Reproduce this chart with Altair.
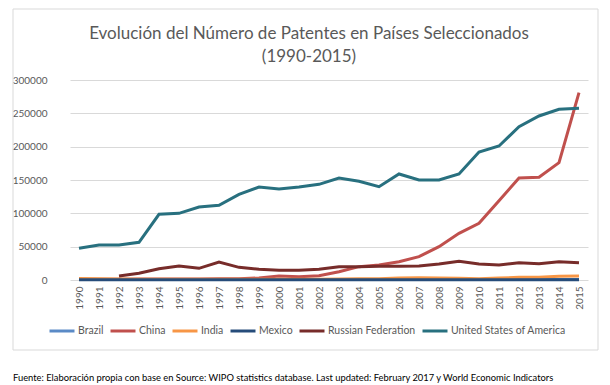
import altair as alt
import pandas as pd

years = list(range(1990, 2016))
countries = ["Brazil", "China", "India", "Mexico", "Russian Federation", "United States of America"]
colors = ["#5A8AC6", "#C0504D", "#F79646", "#264C7A", "#772C2A", "#28707F"]

brazil = [600, 600, 600, 600, 600, 600, 600, 600, 600, 600, 600, 600, 600, 600, 600, 600,
          700, 700, 700, 700, 700, 700, 700, 700, 700, 700]
china = [1000, 1000, 1200, 1500, 1500, 1500, 1500, 1800, 2000, 3000, 6000, 5000, 6500, 12500,
         20000, 22500, 27500, 35000, 50000, 70000, 85000, 119000, 153000, 154000, 176000, 281000]
india = [2200, 1800, 1500, 1200, 1000, 1000, 1000, 1000, 1000, 1000, 1000, 1200, 1300, 1500,
         1800, 2000, 3000, 3500, 3000, 2500, 2000, 3000, 4000, 4000, 5500, 6000]
mexico = [300, 300, 300, 300, 300, 300, 300, 300, 300, 300, 300, 300, 300, 300, 300, 300,
          300, 300, 300, 300, 300, 300, 300, 300, 300, 300]
russia = [None, None, 6000, 10000, 17000, 21000, 17500, 27000, 19000, 16000, 14500, 14500, 16000,
          20000, 20000, 20500, 20500, 21000, 24000, 28000, 24000, 22500, 26000, 24500, 27500, 26000]
usa = [47500, 52500, 52500, 56500, 98500, 100000, 109500, 112000, 128500, 139500, 136500, 139500,
       143500, 153000, 148000, 140000, 159000, 150000, 150000, 159000, 192000, 201000, 230000,
       246000, 256000, 257500]

series = [brazil, china, india, mexico, russia, usa]
rows = []
for c, vals in zip(countries, series):
    for y, v in zip(years, vals):
        if v is not None:
            rows.append({"Año": str(y), "País": c, "Patentes": v, "order": countries.index(c)})
df = pd.DataFrame(rows)

title_lines = ["Evolución del Número de Patentes en Países Seleccionados", "(1990-2015)"]
footnote = ("Fuente: Elaboración propia con base en Source: WIPO statistics database. "
            "Last updated: February 2017 y World Economic Indicators")
FONT = "Lato"

box = alt.Chart(pd.DataFrame({"a": [0]})).mark_rect(
    fill="transparent", stroke="#D9D9D9", strokeWidth=1
).encode(
    x=alt.value(-57), x2=alt.value(528), y=alt.value(-71), y2=alt.value(270)
)

lines = alt.Chart(df).mark_line(strokeWidth=3).encode(
    x=alt.X("Año:O", sort=[str(y) for y in years],
            scale=alt.Scale(type="point", padding=0.45),
            axis=alt.Axis(title=None, labelAngle=270, labelAlign="right", labelBaseline="middle",
                          labelPadding=6, ticks=False, domain=False, grid=False,
                          labelFont=FONT, labelFontSize=10, labelColor="#595959")),
    y=alt.Y("Patentes:Q", scale=alt.Scale(domain=[0, 300000], nice=False),
            axis=alt.Axis(title=None, values=[0, 50000, 100000, 150000, 200000, 250000, 300000],
                          format="d", ticks=False, domain=False, labelPadding=23,
                          gridColor="#D9D9D9", gridWidth=1,
                          labelFont=FONT, labelFontSize=10, labelColor="#595959")),
    color=alt.Color("País:N", scale=alt.Scale(domain=countries, range=colors),
                    legend=alt.Legend(title=None, orient="none", direction="horizontal",
                                      legendX=-22, legendY=237, symbolType="stroke",
                                      symbolSize=625, symbolStrokeWidth=3, labelOffset=2,
                                      columnPadding=0, gridAlign="none", labelFont=FONT,
                                      labelFontSize=10.5, labelColor="#595959")),
    order=alt.Order("order:Q"),
    detail="País:N",
)

title_txt = alt.Chart(pd.DataFrame({"t": [title_lines]})).mark_text(
    font=FONT, fontSize=17, color="#595959", align="center", baseline="middle", lineHeight=23
).encode(text="t", x=alt.value(239), y=alt.value(-46))

foot_txt = alt.Chart(pd.DataFrame({"t": [footnote]})).mark_text(
    font=FONT, fontSize=9.35, color="#000000", align="left", baseline="middle"
).encode(text="t", x=alt.value(-57), y=alt.value(298))

chart = alt.layer(box, lines, title_txt, foot_txt).properties(
    width=518, height=200,
    autosize=alt.AutoSizeParams(type="none"),
    padding={"left": 62, "top": 72, "right": 14, "bottom": 105},
).configure_view(stroke=None)

chart.save("out.html", embed_options={"renderer": "svg", "actions": False})
